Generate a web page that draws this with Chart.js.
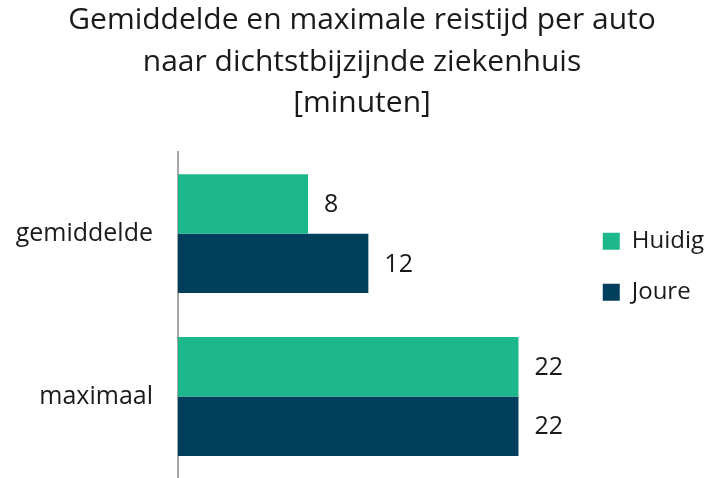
<!DOCTYPE html>
<html>
<head>
<meta charset="utf-8">
<script src="https://cdn.jsdelivr.net/npm/chart.js@4"></script>
<style>
  html, body { margin: 0; padding: 0; background: #fff; }
  #wrap { width: 707px; height: 478px; }
</style>
</head>
<body>
<div id="wrap"><canvas id="chart" width="707" height="478"></canvas></div>
<script>
const categories = ["gemiddelde", "maximaal"];
const huidig = [8.4, 22];
const joure = [12.3, 22];
const seriesNames = ["Huidig", "Joure"];

const FONT = "'Open Sans'";

// draws the value next to each bar
const valueLabels = {
  id: "valueLabels",
  afterDatasetsDraw(chart) {
    const ctx = chart.ctx;
    ctx.save();
    ctx.font = "25px " + FONT;
    ctx.fillStyle = "#1a1a1a";
    ctx.textAlign = "left";
    ctx.textBaseline = "middle";
    chart.data.datasets.forEach((ds, i) => {
      chart.getDatasetMeta(i).data.forEach((bar, j) => {
        ctx.fillText(Math.round(ds.data[j]), bar.x + 16, bar.y + 1);
      });
    });
    ctx.restore();
  },
};

new Chart(document.getElementById("chart"), {
  type: "bar",
  data: {
    labels: categories,
    datasets: [
      {
        label: seriesNames[0],
        data: huidig,
        backgroundColor: "#1cb78b",
        categoryPercentage: 0.73,
        barPercentage: 1.0,
      },
      {
        label: seriesNames[1],
        data: joure,
        backgroundColor: "#013f5c",
        categoryPercentage: 0.73,
        barPercentage: 1.0,
      },
    ],
  },
  options: {
    indexAxis: "y",
    responsive: false,
    animation: false,
    // uneven side padding pushes the title centre a little to the right
    layout: { padding: { left: 10, right: -7, top: 0, bottom: 0 } },
    scales: {
      x: { display: false, min: 0, max: 25.7 },
      y: {
        grid: { display: false },
        border: { display: true, color: "#a6a6a6", width: 2 },
        ticks: { font: { family: FONT, size: 25 }, color: "#1a1a1a", padding: 17 },
        afterFit: (scale) => {
          scale.width = 168;
          scale.paddingTop = 0;
          scale.paddingBottom = 0;
        },
      },
    },
    plugins: {
      title: {
        display: true,
        text: [
          "Gemiddelde en maximale reistijd per auto",
          "naar dichtstbijzijnde ziekenhuis",
          "[minuten]",
        ],
        font: { family: FONT, size: 30, weight: "normal", lineHeight: 1.38 },
        color: "#1a1a1a",
        padding: { top: 0, bottom: 28 },
      },
      legend: {
        position: "right",
        align: "start",
        fullSize: false,
        title: { display: true, text: " ", padding: { top: 38, bottom: 0 }, font: { size: 10 } },
        labels: {
          boxWidth: 17,
          boxHeight: 17,
          padding: 27,
          font: { family: FONT, size: 24 },
          color: "#1a1a1a",
        },
      },
      tooltip: { enabled: false },
    },
  },
  plugins: [valueLabels],
});
</script>
</body>
</html>
